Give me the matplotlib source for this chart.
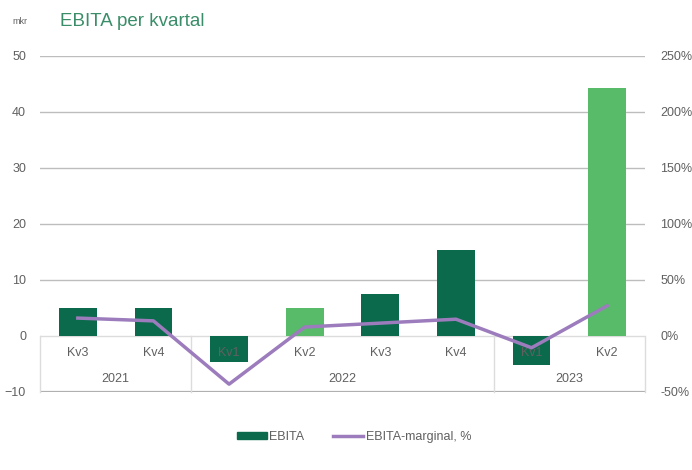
import matplotlib
matplotlib.use("Agg")
import matplotlib.pyplot as plt
import numpy as np
from matplotlib.patches import Patch
from matplotlib.lines import Line2D

quarters = ["Kv3", "Kv4", "Kv1", "Kv2", "Kv3", "Kv4", "Kv1", "Kv2"]
years = ["2021", "2022", "2023"]
year_sizes = [2, 4, 2]
ebita = [5.0, 5.0, -4.6, 5.0, 7.5, 15.4, -5.2, 44.3]
margin = [16, 13.5, -43, 8, 11.5, 15, -10.5, 27]
highlight = [False, False, False, True, False, False, False, True]

DARK = "#0b6a4b"
LIGHT = "#57bb6a"
PURPLE = "#9c7cbc"
TXT = "#606060"

plt.rcParams["font.family"] = ["Liberation Sans", "DejaVu Sans"]

fig = plt.figure(figsize=(6.92, 4.70), dpi=100)
ax = fig.add_axes([40/692, 1-392/470, 605/692, 336/470])
ax2 = ax.twinx()

x = np.arange(len(quarters))
colors = [LIGHT if h else DARK for h in highlight]
ax.bar(x, ebita, width=0.5, color=colors, zorder=2)

ax.set_xlim(-0.5, len(quarters)-0.5)
ax.set_ylim(-10, 50)
ax.set_yticks(np.arange(-10, 51, 10))
ax2.set_ylim(-50, 250)
ax2.set_yticks(np.arange(-50, 251, 50))
ax2.set_yticklabels([f"{v}%" for v in range(-50, 251, 50)])

ax.yaxis.grid(True, color="#bdbdbd", linewidth=1.0, zorder=0)
ax.set_axisbelow(True)
gl = ax.get_ygridlines()
gl[0].set_color("#b0b0b0"); gl[0].set_linewidth(1.6)
gl[1].set_color("#dcdcdc")

for a in (ax, ax2):
    for s in a.spines.values():
        s.set_visible(False)
    a.tick_params(axis="both", length=0, colors=TXT, labelsize=9)
ax.tick_params(axis="y", pad=10)
ax2.tick_params(axis="y", pad=11)
ax.set_xticks([])

# category labels inside box
for xi, q in enumerate(quarters):
    ax.text(xi, -3.0, q, ha="center", va="center", color=TXT, fontsize=9, zorder=5)
start = -0.5
bounds = [start]
for ysz, yl in zip(year_sizes, years):
    ax.text(start + ysz/2, -7.7, yl, ha="center", va="center", color=TXT, fontsize=9, zorder=5)
    start += ysz
    bounds.append(start)
for b in bounds:
    ax.plot([b, b], [0, -10], color="#dcdcdc", linewidth=1.0, zorder=1, clip_on=False)

# line on secondary axis
ax2.plot(x, margin, color=PURPLE, linewidth=2.5, zorder=6)
ax2.patch.set_visible(False)

# title
fig.text(12/692, 1-22/470, "mkr", fontsize=6.5, color=TXT, va="center", ha="left")
fig.text(60/692, 1-21/470, "EBITA per kvartal", fontsize=13.5, color="#3a8d68", va="center", ha="left")

# legend
handles = [Patch(color=DARK, label="EBITA"), Line2D([0], [0], color=PURPLE, lw=2.5, label="EBITA-marginal, %")]
fig.legend(handles=handles, loc="center", bbox_to_anchor=(354/692, 1-437/470), ncol=2, frameon=False,
           fontsize=9, handlelength=2.4, handleheight=0.45, handletextpad=0.2, columnspacing=2.3,
           labelcolor=TXT)

fig.savefig("out.png", dpi=100)
